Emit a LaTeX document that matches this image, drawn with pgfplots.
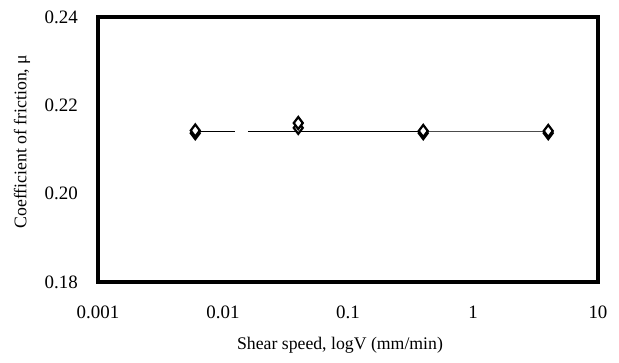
\documentclass[border=0pt]{standalone}
\usepackage{fontspec}
\setmainfont{Liberation Serif}
\usepackage{pgfplots}
\pgfplotsset{compat=1.18}
\begin{document}
\begin{tikzpicture}
\begin{axis}[
  at={(0,0)}, anchor=south west,
  scale only axis, width=500bp, height=265bp,
  xmode=log, xmin=0.001, xmax=10,
  ymin=0.18, ymax=0.24,
  xtick={0.001,0.01,0.1,1,10},
  xticklabels={0.001,0.01,0.1,1,10},
  ytick={0.18,0.20,0.22,0.24},
  yticklabels={0.18,0.20,0.22,0.24},
  minor tick num=0,
  major tick length=0pt, minor tick length=0pt,
  axis line style={line width=3.6bp},
  /pgf/number format/assume math mode=true,
  tick label style={font=\fontsize{19}{22}\selectfont, inner sep=0pt},
  yticklabel style={xshift=-20bp},
  xticklabel style={yshift=-24bp},
  xlabel={Shear speed, logV (mm/min)},
  ylabel={Coefficient of friction, μ},
  label style={font=\fontsize{17.8}{21}\selectfont},
  xlabel style={at={(axis description cs:0.484,-0.2377)}, anchor=center},
  ylabel style={at={(axis description cs:-0.152,0.53)}, anchor=center},
  unbounded coords=jump,
  clip=false,
]
\draw[line width=3.6bp, line join=miter] (rel axis cs:0,0) rectangle (rel axis cs:1,1);
\addplot[black, line width=1.1bp, mark=none] coordinates {
  (0.006,0.2140) (0.0125,0.2140) (0.013,nan) (0.0158,0.2140) (0.04,0.2140) (0.4,0.2140)
};
\addplot[black!70, line width=1bp, mark=none] coordinates {
  (0.4,0.2140) (4,0.2140)
};
\addplot[only marks, mark=diamond*, mark size=6bp,
  mark options={draw=black, fill=white, line width=2.2bp}] coordinates {
  (0.006,0.2137) (0.04,0.2149) (0.4,0.2137) (4,0.2137)
};
\addplot[only marks, mark=diamond*, mark size=6bp,
  mark options={draw=black, fill=white, line width=2.2bp}] coordinates {
  (0.006,0.2143) (0.04,0.2160) (0.4,0.2142) (4,0.2142)
};
\end{axis}
\path[use as bounding box] (-98bp,-81bp) rectangle (521bp,282bp);
\end{tikzpicture}
\end{document}
